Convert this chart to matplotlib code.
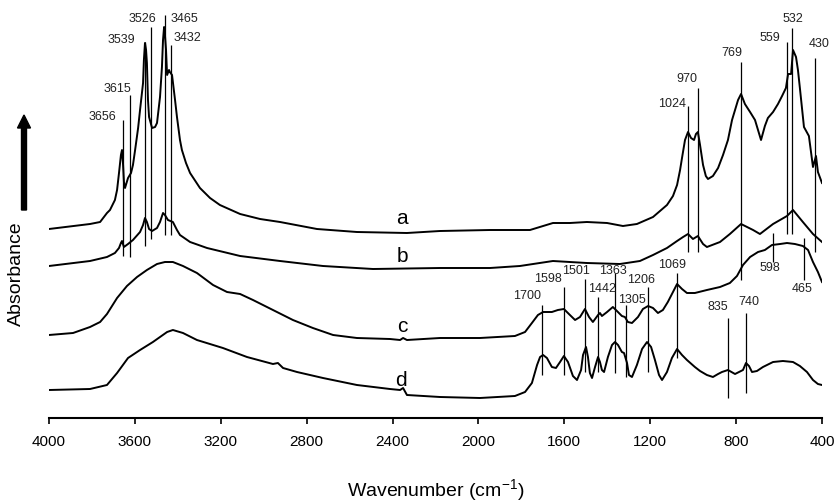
import matplotlib
matplotlib.use("Agg")
import matplotlib.pyplot as plt

plt.rcParams["font.family"] = ["Liberation Sans", "DejaVu Sans"]

# ---- spectra (wavenumber cm-1, absorbance in arbitrary units, offset per trace) ----
wn_a = [4000, 3809, 3762, 3730, 3716, 3693, 3683, 3674, 3665, 3660, 3655, 3651, 3646, 3632, 3618,
        3609, 3599, 3585, 3576, 3562, 3558, 3553, 3548, 3544, 3539, 3534, 3520, 3506, 3497, 3483,
        3474, 3469, 3464, 3460, 3455, 3450, 3441, 3437, 3427, 3413, 3404, 3390, 3381, 3362, 3343,
        3297, 3250, 3204, 3110, 3017, 2924, 2752, 2566, 2333, 2179, 1946, 1760, 1653, 1574, 1495,
        1401, 1327, 1262, 1187, 1122, 1094, 1075, 1061, 1052, 1038, 1024, 1010, 996, 987, 978,
        968, 954, 941, 931, 908, 884, 861, 838, 819, 805, 791, 777, 759, 735, 712,
        698, 684, 666, 652, 628, 605, 586, 568, 558, 544, 535, 521, 512, 503, 484,
        461, 442, 428, 419, 400]
ab_a = [1.89, 1.94, 1.96, 2.05, 2.08, 2.18, 2.28, 2.45, 2.63, 2.68, 2.53, 2.36, 2.30, 2.40, 2.45,
        2.53, 2.68, 2.90, 3.08, 3.35, 3.58, 3.75, 3.68, 3.55, 3.18, 3.01, 2.90, 2.91, 2.95, 3.21,
        3.51, 3.78, 3.91, 3.83, 3.68, 3.43, 3.48, 3.46, 3.43, 3.18, 3.01, 2.78, 2.68, 2.55, 2.45,
        2.30, 2.20, 2.13, 2.04, 1.99, 1.96, 1.89, 1.86, 1.85, 1.87, 1.88, 1.88, 1.95, 1.95, 1.96,
        1.95, 1.92, 1.94, 2.01, 2.13, 2.22, 2.33, 2.48, 2.60, 2.78, 2.86, 2.80, 2.78, 2.84, 2.86,
        2.73, 2.53, 2.42, 2.39, 2.42, 2.50, 2.63, 2.78, 2.98, 3.08, 3.18, 3.24, 3.14, 3.06, 2.98,
        2.88, 2.78, 2.92, 3.00, 3.06, 3.14, 3.22, 3.30, 3.44, 3.44, 3.68, 3.61, 3.48, 3.30, 2.91,
        2.82, 2.51, 2.62, 2.46, 2.35]

wn_b = [4000, 3809, 3730, 3693, 3674, 3665, 3660, 3651, 3632, 3609, 3576, 3562, 3553, 3544, 3534,
        3520, 3497, 3483, 3469, 3460, 3446, 3423, 3404, 3390, 3343, 3264, 3110, 2924, 2724, 2491,
        2179, 1946, 1807, 1653, 1495, 1341, 1248, 1187, 1122, 1075, 1047, 1024, 1001, 978, 954,
        936, 875, 829, 777, 721, 689, 628, 563, 535, 489, 442, 400]
ab_b = [1.52, 1.57, 1.61, 1.65, 1.70, 1.75, 1.77, 1.71, 1.74, 1.78, 1.86, 1.93, 2.00, 1.96, 1.89,
        1.87, 1.90, 1.96, 2.05, 2.03, 1.98, 1.96, 1.88, 1.83, 1.76, 1.70, 1.62, 1.57, 1.52, 1.49,
        1.50, 1.50, 1.52, 1.57, 1.55, 1.54, 1.57, 1.63, 1.70, 1.77, 1.81, 1.84, 1.79, 1.82, 1.74,
        1.71, 1.76, 1.84, 1.94, 1.88, 1.84, 1.94, 2.02, 2.08, 1.96, 1.84, 1.76]

wn_c = [4000, 3888, 3809, 3762, 3730, 3683, 3637, 3590, 3544, 3497, 3460, 3423, 3376, 3311, 3236,
        3171, 3110, 3050, 2957, 2864, 2771, 2677, 2566, 2412, 2365, 2351, 2333, 2179, 1993, 1830,
        1783, 1751, 1723, 1699, 1658, 1630, 1602, 1574, 1550, 1527, 1504, 1485, 1467, 1443, 1434,
        1425, 1401, 1374, 1355, 1332, 1318, 1304, 1285, 1257, 1234, 1210, 1187, 1164, 1141, 1118,
        1094, 1075, 1052, 1029, 992, 936, 875, 829, 796, 768, 735,
        698, 666, 633, 595, 563, 526, 489, 465, 442, 419, 400]
ab_c = [0.83, 0.85, 0.91, 0.96, 1.04, 1.20, 1.32, 1.41, 1.48, 1.54, 1.56, 1.56, 1.52, 1.45, 1.33,
        1.26, 1.24, 1.18, 1.08, 0.98, 0.90, 0.83, 0.80, 0.79, 0.78, 0.80, 0.78, 0.80, 0.80, 0.82,
        0.86, 0.95, 1.03, 1.06, 1.06, 1.08, 1.09, 1.03, 0.98, 1.01, 1.09, 1.01, 0.96, 1.03, 1.05,
        1.02, 1.06, 1.11, 1.07, 1.02, 1.01, 0.96, 0.95, 1.01, 1.09, 1.12, 1.10, 1.05, 1.08, 1.16,
        1.26, 1.34, 1.29, 1.25, 1.25, 1.28, 1.31, 1.35, 1.42, 1.53, 1.61,
        1.66, 1.68, 1.73, 1.74, 1.75, 1.74, 1.72, 1.68, 1.56, 1.46, 1.36]

wn_d = [4000, 3809, 3730, 3683, 3632, 3576, 3516, 3450, 3423, 3376, 3311, 3190, 3078, 2957, 2934,
        2910, 2845, 2724, 2566, 2412, 2365, 2351, 2333, 2179, 1993, 1830, 1783, 1751, 1727, 1713,
        1699, 1681, 1658, 1639, 1620, 1602, 1583, 1560, 1541, 1522, 1513, 1499, 1490, 1481, 1471,
        1457, 1443, 1434, 1425, 1415, 1397, 1378, 1364, 1350, 1332, 1322, 1308, 1299, 1285, 1262,
        1238, 1215, 1196, 1178, 1159, 1145, 1122, 1099, 1075, 1052, 1029, 992, 968, 936, 908,
        884, 866, 838, 805, 768, 754, 740, 726, 703, 675,
        628, 582, 535, 503, 470, 442, 419, 400]
ab_d = [0.28, 0.29, 0.33, 0.45, 0.60, 0.68, 0.76, 0.86, 0.88, 0.85, 0.78, 0.70, 0.61, 0.54, 0.55,
        0.50, 0.46, 0.40, 0.33, 0.29, 0.28, 0.30, 0.23, 0.21, 0.20, 0.22, 0.26, 0.35, 0.53, 0.61,
        0.63, 0.60, 0.51, 0.50, 0.56, 0.62, 0.56, 0.42, 0.38, 0.48, 0.63, 0.71, 0.61, 0.45, 0.40,
        0.51, 0.61, 0.56, 0.48, 0.46, 0.61, 0.73, 0.76, 0.73, 0.66, 0.65, 0.55, 0.43, 0.41, 0.53,
        0.69, 0.76, 0.71, 0.58, 0.43, 0.38, 0.46, 0.60, 0.69, 0.63, 0.58, 0.51, 0.47, 0.43, 0.41,
        0.44, 0.46, 0.48, 0.44, 0.48, 0.55, 0.52, 0.46, 0.47, 0.51,
        0.56, 0.57, 0.56, 0.52, 0.46, 0.38, 0.34, 0.33]

# ---- band markers: label text, line position, line top/bottom ----
band_text = ["3656", "3615", "3539", "3526", "3465", "3432", "1024", "970", "769", "559", "532", "430",
             "598", "465", "1700", "1598", "1501", "1442", "1363", "1305", "1206", "1069", "835", "740"]
band_wn = [3655, 3623, 3553, 3525, 3460, 3432, 1024, 978, 777, 563, 540, 433,
           628, 484, 1704, 1602, 1504, 1443, 1364, 1313, 1210, 1075, 838, 754]
band_top = [2.98, 3.23, 3.76, 3.91, 4.03, 3.73, 3.12, 3.30, 3.56, 3.76, 3.90, 3.60,
            1.85, 1.80, 1.13, 1.31, 1.39, 1.21, 1.45, 1.13, 1.31, 1.45, 1.00, 1.05]
band_bot = [1.62, 1.61, 1.72, 1.79, 1.83, 1.83, 1.66, 1.66, 1.38, 1.84, 1.84, 1.66,
            1.56, 1.38, 0.43, 0.43, 0.46, 0.46, 0.45, 0.41, 0.46, 0.60, 0.20, 0.25]
# where each number is written (text centre)
text_wn = [3753, 3679, 3665, 3567, 3367, 3357, 1099, 1029, 819, 642, 535, 414,
           642, 493, 1774, 1676, 1546, 1425, 1373, 1285, 1243, 1099, 884, 740]
text_ab = [3.01, 3.29, 3.78, 3.99, 3.99, 3.80, 3.14, 3.39, 3.65, 3.80, 3.99, 3.74,
           1.50, 1.29, 1.22, 1.39, 1.47, 1.29, 1.47, 1.18, 1.38, 1.53, 1.11, 1.16]

trace_names = ["a", "b", "c", "d"]
name_wn = [2356, 2356, 2356, 2361]
name_ab = [2.00, 1.61, 0.91, 0.38]

fig = plt.figure(figsize=(8.36, 5.03), dpi=100)
ax = fig.add_axes([49 / 836, 85 / 503, 773 / 836, 418 / 503])

for wn, ab in [(wn_a, ab_a), (wn_b, ab_b), (wn_c, ab_c), (wn_d, ab_d)]:
    ax.plot(wn, ab, color="black", lw=1.4, solid_joinstyle="round")

ax.vlines(band_wn, band_bot, band_top, color="black", lw=0.9)
for t, x, y in zip(band_text, text_wn, text_ab):
    ax.text(x, y, t, ha="center", va="center", fontsize=9, color="#222222")

for t, x, y in zip(trace_names, name_wn, name_ab):
    ax.text(x, y, t, ha="center", va="center", fontsize=15)

ax.set_xlim(4000, 400)
ax.set_ylim(0, 4.18)
ax.set_xticks(range(4000, 399, -400))
ax.set_yticks([])
for s in ["top", "right", "left"]:
    ax.spines[s].set_visible(False)
ax.spines["bottom"].set_linewidth(1.5)
ax.tick_params(axis="x", length=4, width=1.2, pad=8, labelsize=11)
ax.patch.set_alpha(0)

fig.text(436 / 836, 1 - 491 / 503, "Wavenumber (cm$^{\\mathregular{-1}}$)",
         ha="center", va="center", fontsize=14)
fig.text(16 / 836, 1 - 274 / 503, "Absorbance", rotation=90,
         ha="center", va="center", fontsize=14)
fig.patches.append(matplotlib.patches.FancyArrow(
    24 / 836, 1 - 210 / 503, 0, 82 / 503, width=3 / 503, head_width=13 / 836,
    head_length=13 / 503, length_includes_head=False, color="black",
    transform=fig.transFigure, figure=fig))

fig.savefig("out.png", dpi=100)
